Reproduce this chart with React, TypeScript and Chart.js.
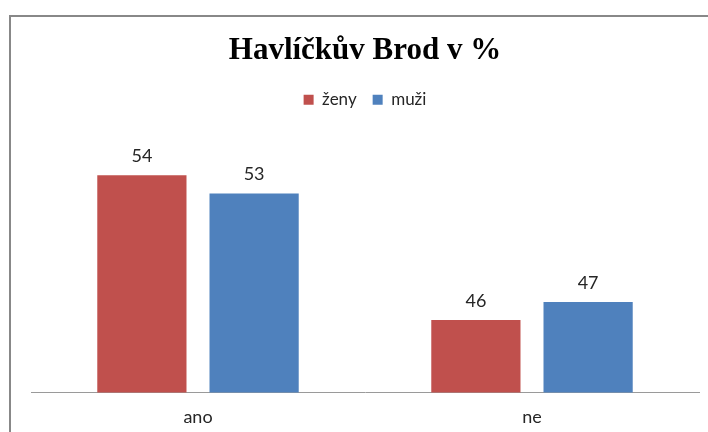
import React, { useEffect, useRef } from "react";
import { Chart, registerables } from "chart.js";

Chart.register(...registerables);

const categories = ["ano", "ne"];
const zenyValues = [54, 46];
const muziValues = [53, 47];
const seriesNames = ["ženy", "muži"];
const titleText = "Havlíčkův Brod v %";

const barLabels = {
  id: "barLabels",
  afterDatasetsDraw(chart: any) {
    const ctx = chart.ctx;
    ctx.save();
    ctx.font = "18px Lato";
    ctx.fillStyle = "#262626";
    ctx.textAlign = "center";
    ctx.textBaseline = "alphabetic";
    chart.data.datasets.forEach((ds: any, i: number) => {
      const meta = chart.getDatasetMeta(i);
      meta.data.forEach((bar: any, j: number) => {
        ctx.fillText(String(ds.data[j]), bar.x, bar.y - 13);
      });
    });
    ctx.restore();
  },
};

const legendMargin = {
  id: "legendMargin",
  beforeInit(chart: any) {
    const legend = chart.legend;
    if (!legend) return;
    const fit = legend.fit;
    legend.fit = function () {
      fit.call(legend);
      this.height += 21;
    };
  },
};

export default function App() {
  const ref = useRef<HTMLCanvasElement>(null);
  useEffect(() => {
    if (!ref.current) return;
    const chart = new Chart(ref.current, {
      type: "bar",
      data: {
        labels: categories,
        datasets: [
          {
            label: seriesNames[0],
            data: zenyValues,
            backgroundColor: "#C0504D",
            categoryPercentage: 0.672,
            barPercentage: 0.795,
          },
          {
            label: seriesNames[1],
            data: muziValues,
            backgroundColor: "#4F81BD",
            categoryPercentage: 0.672,
            barPercentage: 0.795,
          },
        ],
      },
      options: {
        animation: false,
        responsive: false,
        layout: { padding: { left: 20, right: 18, top: 0, bottom: 4 } },
        plugins: {
          title: {
            display: true,
            text: titleText,
            color: "#000",
            font: { family: "'Liberation Serif'", size: 31, weight: "bold" },
            padding: { top: 15, bottom: 6 },
          },
          legend: {
            display: true,
            position: "top",
            labels: {
              boxWidth: 10,
              boxHeight: 10,
              padding: 16,
              color: "#262626",
              font: { family: "Lato", size: 17 },
            },
          },
          tooltip: { enabled: false },
        },
        scales: {
          x: {
            grid: { display: false, drawTicks: false },
            border: { display: true, color: "#9a9a9a", width: 1 },
            ticks: {
              padding: 14,
              color: "#262626",
              font: { family: "Lato", size: 18 },
            },
          },
          y: {
            display: false,
            min: 42,
            max: 56,
          },
        },
      },
      plugins: [barLabels, legendMargin],
    });
    return () => chart.destroy();
  }, []);

  return (
    <div
      style={{
        position: "fixed",
        left: 0,
        top: 0,
        width: 708,
        height: 432,
        overflow: "hidden",
        background: "#fff",
      }}
    >
      <div
        style={{
          position: "absolute",
          left: 9,
          top: 15,
          width: 720,
          height: 440,
          borderLeft: "2px solid #888",
          borderTop: "2px solid #888",
        }}
      >
        <canvas
          ref={ref}
          width={706}
          height={429}
          style={{ display: "block", width: 706, height: 429 }}
        />
      </div>
    </div>
  );
}
